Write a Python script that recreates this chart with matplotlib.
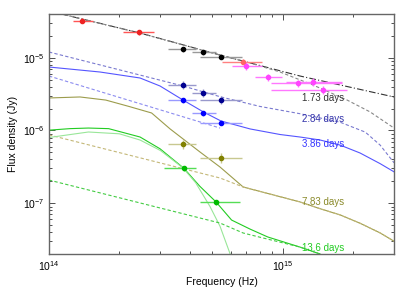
import matplotlib
matplotlib.use('Agg')
import matplotlib.pyplot as plt
import numpy as np

plt.rcParams['font.family'] = ['Liberation Sans', 'DejaVu Sans']
plt.rcParams['mathtext.fontset'] = 'custom'
plt.rcParams['mathtext.rm'] = 'Liberation Sans'
plt.rcParams['mathtext.it'] = 'Liberation Sans'

# ---- data points (Hz, Jy) ----
red_nu = [1.39e14, 2.43e14]
red_lo = [1.27e14, 2.07e14]
red_hi = [1.54e14, 2.82e14]
red_f = [3.24e-5, 2.24e-5]

salmon_nu = [6.78e14]
salmon_lo = [5.51e14]
salmon_hi = [8.17e14]
salmon_f = [8.83e-6]

mag_nu = [6.95e14, 8.64e14, 1.16e15, 1.35e15, 1.49e15]
mag_lo = [6.08e14, 7.62e14, 8.9e14, 1.03e15, 8.94e14]
mag_hi = [8.17e14, 9.96e14, 1.80e15, 1.80e15, 1.89e15]
mag_f = [7.78e-6, 5.38e-6, 4.46e-6, 4.65e-6, 3.61e-6]

opt_nu = [3.74e14, 4.58e14, 5.45e14]
opt_lo = [3.23e14, 4.09e14, 4.43e14]
opt_hi = [4.26e14, 5.19e14, 6.71e14]
d173_f = [1.31e-5, 1.20e-5, 1.03e-5]
d284_f = [4.22e-6, 3.27e-6, 2.62e-6]
d386_f = [2.62e-6, 1.72e-6, 1.28e-6]

d783_nu = [3.74e14, 5.45e14]
d783_lo = [3.23e14, 4.43e14]
d783_hi = [4.26e14, 6.71e14]
d783_f = [6.52e-7, 4.22e-7]

d136_nu = [3.78e14, 5.19e14]
d136_lo = [3.10e14, 4.43e14]
d136_hi = [4.26e14, 6.60e14]
d136_f = [3.02e-7, 1.04e-7]

# ---- model curves ----
tot173_nu = [1.0e14, 2.45e14, 5.40e14, 1.188e15, 3.0e15]
tot173_f = [4.40e-5, 2.19e-5, 1.09e-5, 5.61e-6, 2.89e-6]
pl173_nu = [1.0e14, 2.45e14, 5.40e14, 7.26e14, 9.76e14, 1.35e15, 1.89e15, 2.37e15, 3.0e15]
pl173_f = [4.40e-5, 2.19e-5, 1.09e-5, 8.47e-6, 6.37e-6, 4.22e-6, 2.62e-6, 1.80e-6, 1.08e-6]

m284_nu = [1.0e14, 2.015e14, 3.75e14, 5.45e14, 8.01e14, 1.188e15, 1.763e15, 2.26e15, 2.616e15, 3.0e15]
m284_f = [1.20e-5, 6.79e-6, 4.09e-6, 2.89e-6, 2.14e-6, 1.70e-6, 1.30e-6, 9.5e-7, 6.3e-7, 3.6e-7]

m386_nu = [1.0e14, 1.654e14, 2.454e14, 2.988e14, 3.75e14, 4.58e14, 5.45e14, 7.26e14,
           9.76e14, 1.188e15, 1.447e15, 1.763e15, 2.147e15, 2.616e15, 3.0e15]
m386_f = [7.46e-6, 6.37e-6, 5.27e-6, 4.09e-6, 2.62e-6, 1.80e-6, 1.35e-6, 1.05e-6,
          8.8e-7, 8.13e-7, 7.4e-7, 6.3e-7, 4.9e-7, 3.5e-7, 2.7e-7]
pl386_nu = [1.0e14, 5.40e14]
pl386_f = [5.61e-6, 1.08e-6]

m783_nu = [1.0e14, 1.358e14, 1.75e14, 2.2e14, 2.75e14, 3.3e14, 4.43e14, 5.40e14,
           6.78e14, 8.8e14, 1.188e15, 1.447e15, 1.763e15, 2.147e15, 2.616e15, 3.0e15]
m783_f = [2.80e-6, 2.89e-6, 2.62e-6, 2.14e-6, 1.74e-6, 1.05e-6, 5.06e-7, 3.14e-7,
          1.67e-7, 1.34e-7, 1.04e-7, 8.4e-8, 6.9e-8, 5.3e-8, 3.9e-8, 3.0e-8]
pl783_nu = [1.0e14, 5.40e14, 6.78e14, 8.8e14, 1.188e15, 1.447e15, 1.763e15, 2.147e15, 2.616e15, 3.0e15]
pl783_f = [8.7e-7, 2.22e-7, 1.67e-7, 1.34e-7, 1.04e-7, 8.4e-8, 6.9e-8, 5.3e-8, 3.9e-8, 3.0e-8]

m136_nu = [1.0e14, 1.23e14, 1.475e14, 1.80e14, 2.454e14, 2.988e14, 3.78e14, 4.43e14,
           5.19e14, 6.05e14, 7.26e14, 8.64e14, 1.188e15, 1.447e15]
m136_f = [1.01e-6, 1.06e-6, 1.08e-6, 1.06e-6, 8.13e-7, 5.6e-7, 3.02e-7, 1.70e-7,
          1.04e-7, 5.86e-8, 4.4e-8, 3.43e-8, 2.49e-8, 2.0e-8]
comp136_nu = [1.0e14, 1.475e14, 2.0e14, 2.454e14, 3.0e14, 3.75e14, 4.25e14, 4.89e14, 5.40e14, 6.0e14]
comp136_f = [8.0e-7, 9.53e-7, 9.0e-7, 7.39e-7, 5.3e-7, 3.05e-7, 1.9e-7, 9.0e-8, 4.8e-8, 1.9e-8]
pl136_nu = [1.0e14, 5.40e14, 6.78e14, 8.01e14, 1.188e15, 1.447e15]
pl136_f = [2.08e-7, 5.33e-8, 3.89e-8, 3.4e-8, 2.49e-8, 2.0e-8]

labels = ['1.73 days', '2.84 days', '3.86 days', '7.83 days', '13.6 days']
label_f = [2.80e-6, 1.44e-6, 6.52e-7, 1.04e-7, 2.41e-8]
label_col = ['#333333', '#3333aa', '#3333ff', '#8a8a2a', '#22cc22']


def pts(ax, nu, lo, hi, f, col, ecol, ferr=0.08):
    nu = np.array(nu)
    f = np.array(f)
    xerr = [nu - np.array(lo), np.array(hi) - nu]
    yerr = [f * ferr, f * ferr]
    ax.errorbar(nu, f, xerr=xerr, yerr=yerr, fmt='o', color=col, ecolor=ecol,
                ms=3, elinewidth=1.0, capsize=0, zorder=5)


fig = plt.figure(figsize=(4.15, 2.91), dpi=100)
ax = fig.add_axes([49 / 415, 37 / 291, 345 / 415, 240 / 291])
ax.set_xscale('log')
ax.set_yscale('log')

lw = 0.8
ax.plot(tot173_nu, tot173_f, color='#333333', lw=lw, ls=(0, (6, 2, 1, 2)))
ax.plot(pl173_nu, pl173_f, color='#888888', lw=lw, ls=(0, (3, 2)))
ax.plot(m284_nu, m284_f, color='#7a7ad0', lw=lw, ls=(0, (3, 2)))
ax.plot(m386_nu, m386_f, color='#5555ff', lw=lw)
ax.plot(pl386_nu, pl386_f, color='#8c8cf0', lw=lw, ls=(0, (3, 2)))
ax.plot(m783_nu, m783_f, color='#9c9c4c', lw=lw)
ax.plot(pl783_nu, pl783_f, color='#c4b878', lw=lw, ls=(0, (3, 2)))
ax.plot(m136_nu, m136_f, color='#22cc22', lw=lw)
ax.plot(comp136_nu, comp136_f, color='#99e699', lw=lw)
ax.plot(pl136_nu, pl136_f, color='#44cc44', lw=lw, ls=(0, (3, 2)))

pts(ax, red_nu, red_lo, red_hi, red_f, '#ee2222', '#ff5555')
pts(ax, salmon_nu, salmon_lo, salmon_hi, salmon_f, '#ff6666', '#ff8080')
pts(ax, mag_nu, mag_lo, mag_hi, mag_f, '#ff44ff', '#ff77ff', 0.12)
pts(ax, opt_nu, opt_lo, opt_hi, d173_f, 'black', '#999999')
pts(ax, opt_nu, opt_lo, opt_hi, d284_f, '#000090', '#9999cc', 0.12)
pts(ax, opt_nu, opt_lo, opt_hi, d386_f, '#0000ff', '#9999ff')
pts(ax, d783_nu, d783_lo, d783_hi, d783_f, '#808000', '#c8c890', 0.15)
pts(ax, d136_nu, d136_lo, d136_hi, d136_f, '#00bb00', '#55dd55')

for t, fy, c in zip(labels, label_f, label_col):
    ax.text(1.21e15, fy, t, color=c, fontsize=7, va='center', ha='left')

ax.set_xlim(1e14, 3e15)
ax.set_ylim(2e-8, 4e-5)
ax.set_xticks([1e14, 1e15])
ax.set_xticklabels(['$10^{14}$', '$10^{15}$'])
ax.set_yticks([1e-7, 1e-6, 1e-5])
ax.set_yticklabels(['$10^{-7}$', '$10^{-6}$', '$10^{-5}$'])
ax.tick_params(which='both', direction='in', top=True, right=True, labelsize=7.5, width=0.6, color='#333333')
ax.tick_params(which='major', length=4)
ax.tick_params(which='minor', length=2)
for s in ax.spines.values():
    s.set_color('#666666')
    s.set_linewidth(1.0)
ax.set_xlabel('Frequency (Hz)', fontsize=7.5, labelpad=3)
ax.set_ylabel('Flux density (Jy)', fontsize=7.5, labelpad=3)

fig.savefig('out.png', dpi=100)
